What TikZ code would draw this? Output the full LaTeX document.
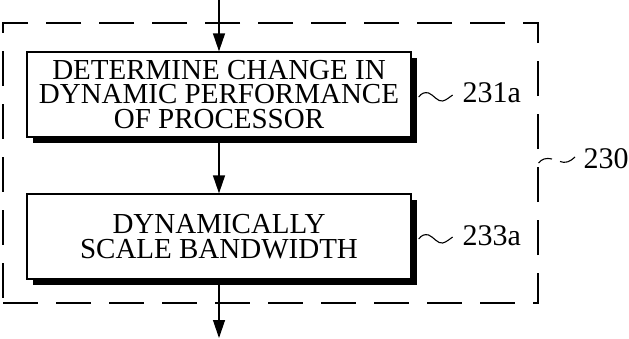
\documentclass[tikz,border=0pt]{standalone}
\usepackage{fontspec}
\setmainfont{Liberation Serif}
\usetikzlibrary{arrows.meta,shadows}
\begin{document}
\begin{tikzpicture}[x=1pt,y=-1pt,
  line width=1.3pt,
  stepbox/.style={draw, fill=white, line width=1.3pt,
    minimum width=384pt, minimum height=85pt, inner sep=0pt,
    align=center, font=\fontsize{29}{24.5}\selectfont,
    drop shadow={shadow xshift=5.5pt, shadow yshift=-5.5pt, fill=black, opacity=1}},
  grpbox/.style={draw, line width=1.2pt, dash pattern=on 35pt off 18pt,
    minimum width=535pt, minimum height=280pt, inner sep=0pt},
  reflabel/.style={anchor=base west, inner sep=0pt, font=\fontsize{30}{30}\selectfont},
  flow/.style={-{Triangle[length=18pt,width=12pt]}, line width=1.3pt},
  squig/.style={line width=1.1pt}
]
\useasboundingbox (0,0) rectangle (629,338);

% dashed group outline
\node[grpbox] (grp) at (270.5,163) {};

% process steps
\node[stepbox] (b1) at (219,94.5) {DETERMINE CHANGE IN\\DYNAMIC PERFORMANCE\\OF PROCESSOR};
\node[stepbox] (b2) at (219,236.5) {DYNAMICALLY\\SCALE BANDWIDTH};

% flow arrows
\coordinate (in) at (219,0);
\coordinate (out) at (219,338);
\draw[flow] (in) -- (b1.north);
\draw[flow] (b1.south) -- (b2.north);
\draw[flow] (b2.south) -- (out);

% reference labels
\node[reflabel] (l1) at (462,102) {231a};
\node[reflabel] (l2) at (462,245) {233a};
\node[reflabel] (l3) at (583,168) {230};

% tilde leaders from the step boxes
\foreach \b in {b1,b2}{
  \begin{scope}[shift={(\b.east)}]
    \draw[squig] (7,2.5) .. controls (10,-1.5) and (13,-2.5) .. (17,-1.5)
      .. controls (22,0.5) and (26,7.5) .. (31,6.5)
      .. controls (35,5.5) and (38,2.5) .. (41,0.5);
  \end{scope}
}
% broken leader for the group label
\coordinate (g1) at (538.5,163);
\coordinate (g2) at (575,157);
\draw[squig] (g1) .. controls (542,159) and (546,157.5) .. (552,159);
\draw[squig] (560,161.5) .. controls (565,163.5) and (570,162) .. (g2);
\end{tikzpicture}
\end{document}
